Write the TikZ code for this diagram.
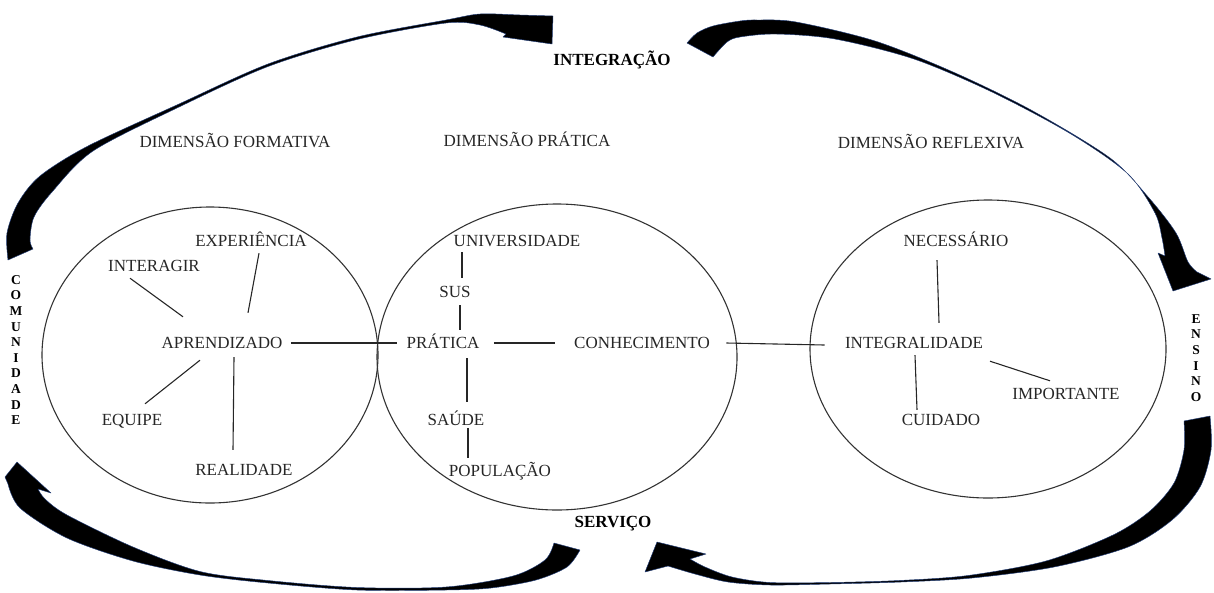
\documentclass[tikz,border=0pt]{standalone}
\usepackage{fontspec}
\setmainfont{Liberation Serif}
\usetikzlibrary{shapes.geometric,calc}
\definecolor{glow}{RGB}{35,62,120}
\colorlet{ink}{black!85}

\begin{document}
\begin{tikzpicture}[x=1pt, y=-1pt, line width=1.1pt,
    word/.style={font=\fontsize{17}{19}\selectfont, text=ink, inner sep=2pt, text height=11.3pt, text depth=0pt},
    pole/.style={word, font=\fontsize{17}{19}\selectfont\bfseries, text=black},
    letters/.style={font=\fontsize{13.5}{15.6}\selectfont\bfseries, align=center, inner sep=0pt},
    dimension/.style={ellipse, draw=black!80, inner sep=0pt},
    link/.style={draw=black!85},
    bent arrow/.style={fill=black, draw=glow, line width=0.45pt, line join=round}
  ]
  \useasboundingbox (0,0) rectangle (1214,592);

  \node [dimension, minimum width=336pt, minimum height=296pt] (formativa) at (210,355) {};
  \node [dimension, minimum width=360pt, minimum height=306pt] (pratica-dim) at (557,357) {};
  \node [dimension, minimum width=356pt, minimum height=298pt] (reflexiva) at (988,349) {};

  \node [pole] (integracao) at (612,60) {INTEGRAÇÃO};
  \node [pole] (servico) at (613,522) {SERVIÇO};
  \node [letters] (comunidade) at (16,350) {C\\O\\M\\U\\N\\I\\D\\A\\D\\E};
  \node [letters] (ensino) at (1196,358) {E\\N\\S\\I\\N\\O};

  \node [word] (dformativa) at (235,142) {DIMENSÃO FORMATIVA};
  \node [word] (dpratica) at (527,141) {DIMENSÃO PRÁTICA};
  \node [word] (dreflexiva) at (931,143) {DIMENSÃO REFLEXIVA};

  \node [word] (experiencia) at (251,241) {EXPERIÊNCIA};
  \node [word] (interagir) at (154,266) {INTERAGIR};
  \node [word] (aprendizado) at (222,343) {APRENDIZADO};
  \node [word] (equipe) at (132,420) {EQUIPE};
  \node [word] (realidade) at (244,470) {REALIDADE};

  \node [word] (universidade) at (517,241) {UNIVERSIDADE};
  \node [word] (sus) at (455,292) {SUS};
  \node [word] (pratica) at (443,343) {PRÁTICA};
  \node [word] (conhecimento) at (642,343) {CONHECIMENTO};
  \node [word] (saude) at (456,420) {SAÚDE};
  \node [word] (populacao) at (500,471) {POPULAÇÃO};

  \node [word] (necessario) at (956,241) {NECESSÁRIO};
  \node [word] (integralidade) at (914,343) {INTEGRALIDADE};
  \node [word] (importante) at (1066,394) {IMPORTANTE};
  \node [word] (cuidado) at (941,420) {CUIDADO};

  \begin{scope}[every path/.style={link}]
    \draw ($(interagir.south)+(-24,4)$) -- ($(aprendizado.north)+(-39,-18)$);
    \draw ($(experiencia.south)+(8,4)$) -- ($(aprendizado.north)+(26,-22)$);
    \draw ($(aprendizado.south)+(-22,9)$) -- ($(equipe.north)+(13,-8)$);
    \draw ($(aprendizado.south)+(12,6)$) -- ($(realidade.north)+(-11,-12)$);
    \draw ($(aprendizado.east)+(6,0)$) -- ($(pratica.west)+(-7,0)$);
    \draw ($(pratica.east)+(12,0)$) -- ($(conhecimento.west)+(-17,0)$);
    \draw ($(conhecimento.east)+(14,0)$) -- ($(integralidade.west)+(-18,2)$);
    \draw ($(universidade.south)+(-55,3)$) -- ($(sus.north)+(7,-6)$);
    \draw ($(sus.south)+(5,5)$) -- ($(pratica.north)+(17,-5)$);
    \draw ($(pratica.south)+(24,7)$) -- ($(saude.north)+(11,-10)$);
    \draw ($(saude.south)+(12,0)$) -- ($(populacao.north)+(-32,-5)$);
    \draw ($(necessario.south)+(-19,11)$) -- ($(integralidade.north)+(25,-12)$);
    \draw ($(integralidade.south)+(1,4)$) -- ($(cuidado.north)+(-24,-2)$);
    \draw ($(integralidade.south)+(76,10)$) -- ($(importante.north)+(-16,-5)$);
  \end{scope}

  \path [bent arrow] plot [smooth] coordinates {(8,260) (7,233) (18,203) (40,176) (88,146) (179,104) (268,64) (357,37) (446,20) (480,14) (520,15) (553,16)}
    -- (552,44) -- (503,37)
    -- plot [smooth] coordinates {(506,34) (480,25) (446,23) (357,39.5) (268,66.5) (179,107) (93,151) (52,192) (34,217) (30,240) (33,249)} -- cycle;
  \path [bent arrow] plot [smooth] coordinates {(687,43) (697,33) (713,26) (740,21) (757,20) (796,22) (875,41) (953,72) (1031,110) (1110,158) (1149,198) (1176,233) (1188,262) (1197,272)}
    -- (1211,279) -- (1173,291) -- (1158,253)
    -- plot [smooth] coordinates {(1165,256) (1162,238) (1155,213) (1128,174) (1071,134) (992,92) (914,59) (835,39) (776,34) (740,37) (727,42) (713,57)} -- cycle;
  \path [bent arrow] plot [smooth] coordinates {(1210,416) (1211,450) (1200,487) (1172,520) (1128,547) (1054,567) (972,578) (901,582) (830,584) (770,585) (728,582) (695,574) (668,566)}
    -- (645,572) -- (657,542) -- (706,554)
    -- plot [smooth] coordinates {(690,559) (705,567) (732,577) (770,582.5) (830,582.5) (899,580.5) (968,575.5) (1046,561) (1113,535) (1150,511) (1174,483) (1184,450) (1184,421)} -- cycle;
  \path [bent arrow] plot [smooth] coordinates {(580,550) (567,567) (536,580) (491,588) (446,590) (357,590) (268,583) (200,575) (133,561) (67,538) (20,508) (8,484)}
    -- (5,477) -- (17,462) -- (51,493)
    -- plot [smooth] coordinates {(38,489) (45,499) (67,515) (133,547) (200,571.5) (268,580.5) (357,587.5) (446,587) (513,576) (545,560) (554,543)} -- cycle;
\end{tikzpicture}
\end{document}
